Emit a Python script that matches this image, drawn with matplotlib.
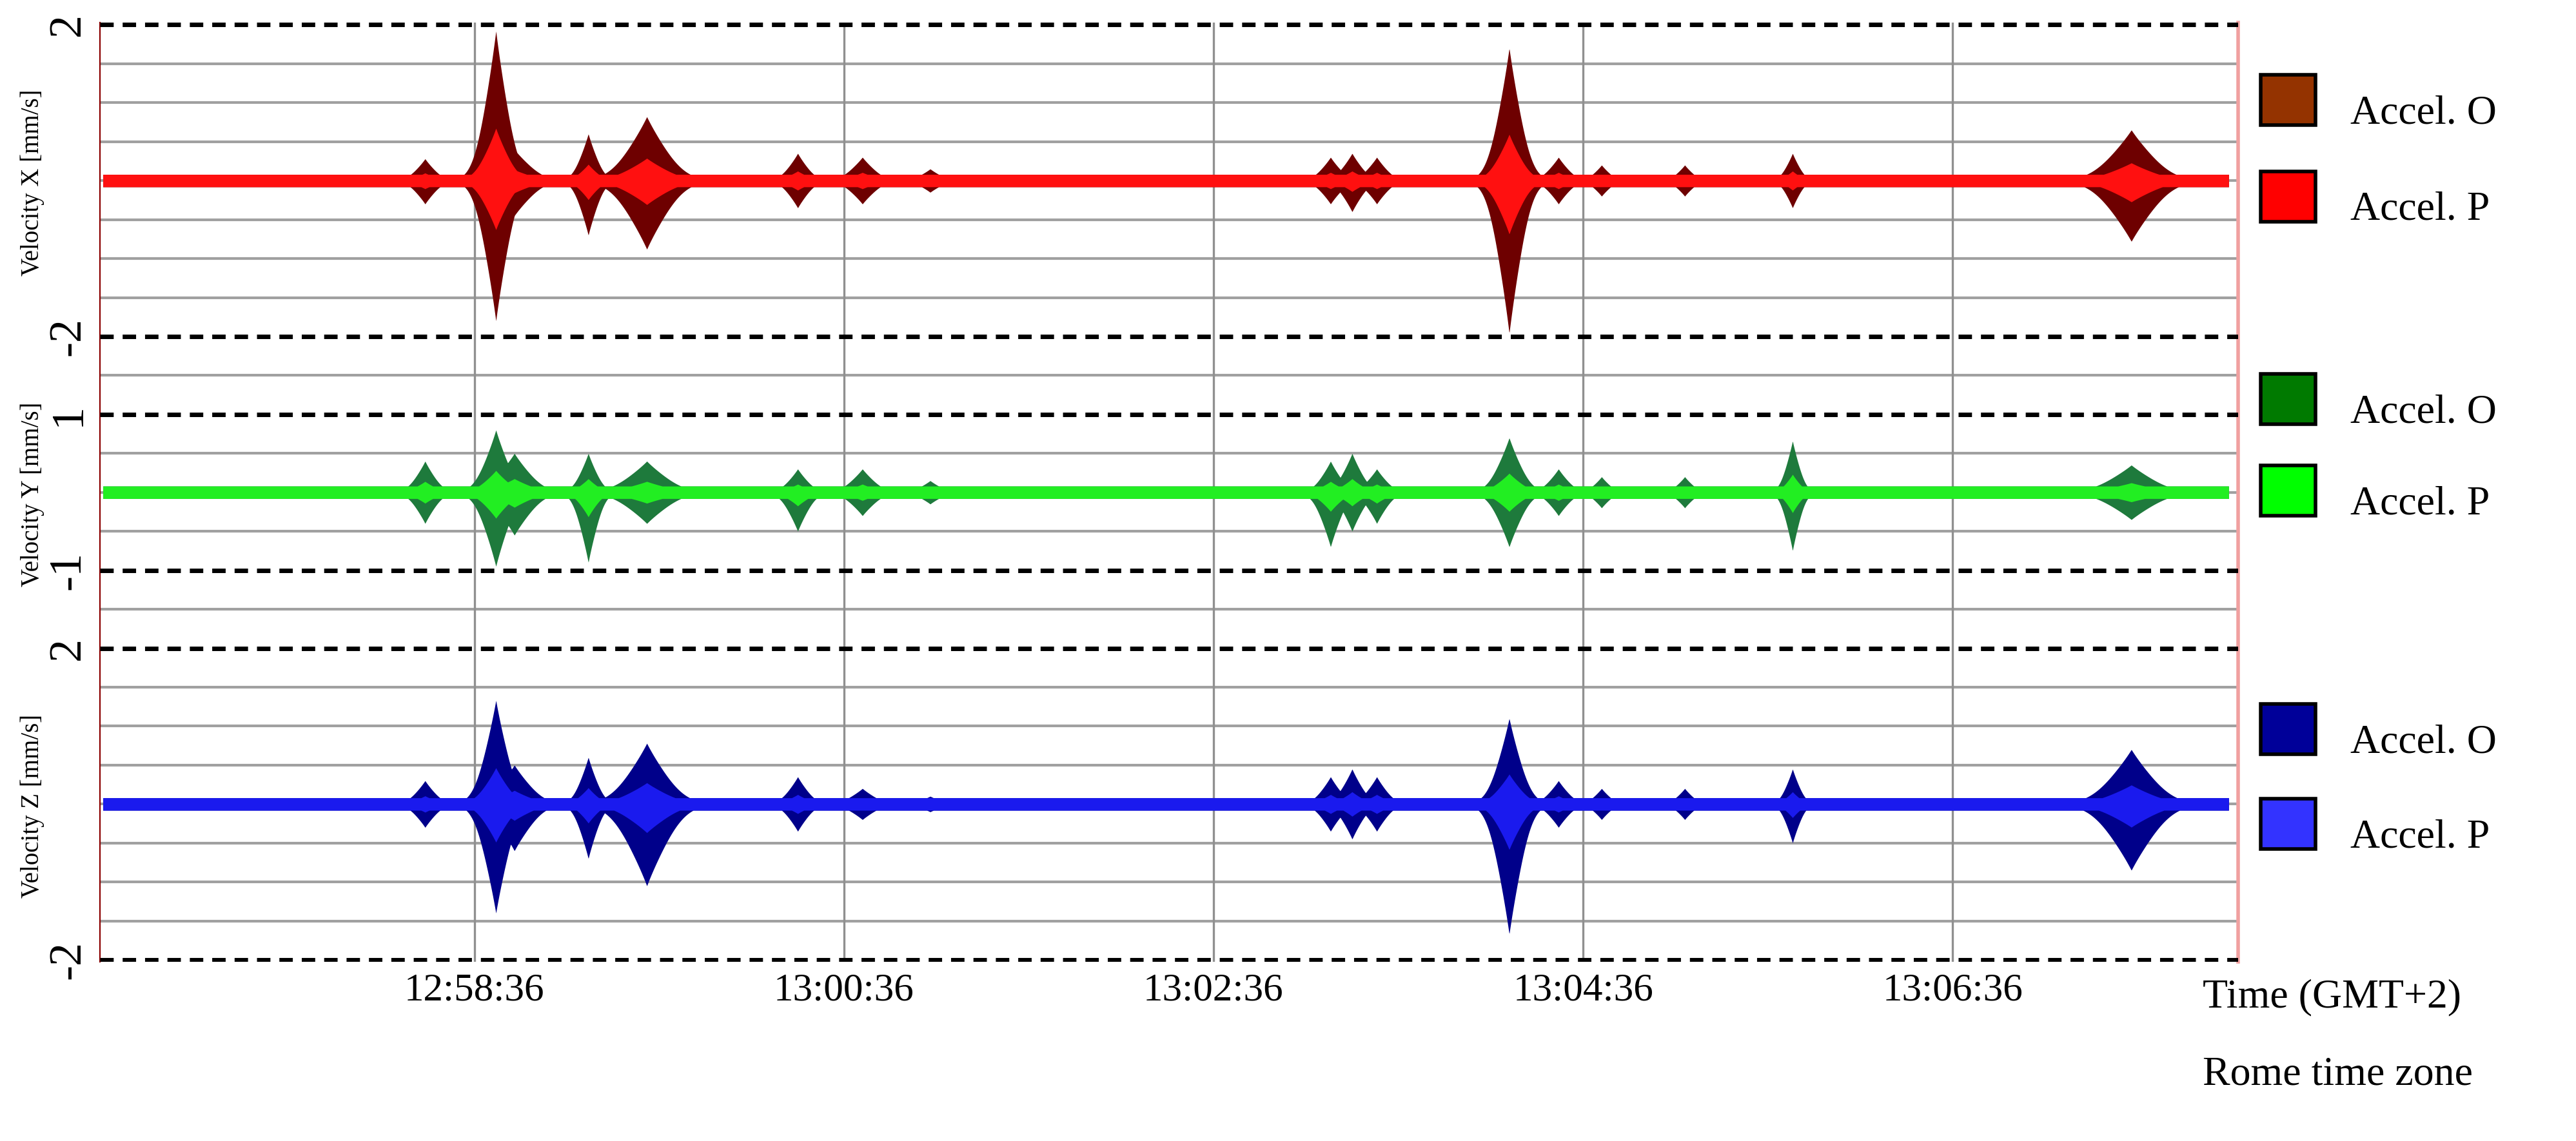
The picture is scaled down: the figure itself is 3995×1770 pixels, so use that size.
import numpy as np
import matplotlib
matplotlib.use('Agg')
import matplotlib.pyplot as plt
from matplotlib.patches import Rectangle

# event times in seconds relative to 12:58:36, with widths (s)
event_t = [-16, 7, 13, 37, 56, 105, 126, 148, 278, 285, 293, 336, 352, 366, 393, 428, 538]
event_w = [2.5, 3.0, 4.0, 2.2, 5.0, 2.5, 3.0, 2.5, 2.5, 2.5, 2.5, 3.0, 2.5, 2.0, 2.0, 1.8, 5.5]
# peak amplitudes (mm/s) of Accel. O, upper / lower
x_up = [0.28, 1.92, 0.40, 0.60, 0.82, 0.35, 0.30, 0.15, 0.30, 0.35, 0.30, 1.70, 0.30, 0.20, 0.20, 0.35, 0.65]
x_dn = [0.30, 1.80, 0.45, 0.70, 0.88, 0.35, 0.30, 0.15, 0.30, 0.40, 0.30, 1.96, 0.30, 0.20, 0.20, 0.35, 0.78]
y_up = [0.40, 0.80, 0.50, 0.50, 0.40, 0.30, 0.30, 0.15, 0.40, 0.50, 0.30, 0.70, 0.30, 0.20, 0.20, 0.66, 0.35]
y_dn = [0.40, 0.95, 0.55, 0.90, 0.40, 0.50, 0.30, 0.15, 0.70, 0.50, 0.40, 0.70, 0.30, 0.20, 0.20, 0.75, 0.35]
z_up = [0.30, 1.33, 0.50, 0.60, 0.78, 0.35, 0.20, 0.10, 0.35, 0.45, 0.35, 1.10, 0.30, 0.20, 0.20, 0.45, 0.70]
z_dn = [0.30, 1.40, 0.60, 0.70, 1.05, 0.35, 0.20, 0.10, 0.35, 0.45, 0.35, 1.67, 0.30, 0.20, 0.20, 0.50, 0.85]
baseline = 0.08
core_ratio = 0.35

tick_secs = [0, 120, 240, 360, 480]
tick_labels = ['12:58:36', '13:00:36', '13:02:36', '13:04:36', '13:06:36']
t_start, t_end = -121.6, 572.6

panels = [
    # center (grid units), units per mm/s, up, down, dark, light, label
    (20, 2, x_up, x_dn, '#6e0000', '#ff1010', 'Velocity X [mm/s]'),
    (12, 2, y_up, y_dn, '#1e7a3c', '#22ee22', 'Velocity Y [mm/s]'),
    (4, 2, z_up, z_dn, '#00008a', '#1a1aee', 'Velocity Z [mm/s]'),
]

fig = plt.figure(figsize=(19.975, 8.85), dpi=200)
ax = fig.add_axes([0.03875, 0.157, 0.830, 0.823])
t = np.linspace(t_start + 1, t_end - 3, 6000)

for center, scale, up, dn, dark, light, label in panels:
    env_up = np.full_like(t, baseline)
    env_dn = np.full_like(t, baseline)
    for t0, w, a, b in zip(event_t, event_w, up, dn):
        d = np.abs(t - t0) / w
        shape = 0.5 * np.exp(-d) + 0.5 * np.exp(-d ** 2 / 4)
        env_up = np.maximum(env_up, a * shape)
        env_dn = np.maximum(env_dn, b * shape)
    ax.fill_between(t, center + scale * env_up, center - scale * env_dn, color=dark, lw=0, zorder=3)
    core_up = np.maximum(baseline, core_ratio * env_up)
    core_dn = np.maximum(baseline, core_ratio * env_dn)
    ax.fill_between(t, center + scale * core_up, center - scale * core_dn, color=light, lw=0, zorder=4)
    yf = 0.157 + 0.823 * center / 24.1
    fig.text(0.0125, yf, label, rotation=90, ha='center', va='center',
             fontsize=14, family='Liberation Serif')

for y in range(0, 25):
    if y in (0, 8, 10, 14, 16, 24):
        ax.axhline(y, color='black', lw=2.5, ls=(0, (3, 2)), zorder=5)
    else:
        ax.axhline(y, color='#a0a0a0', lw=1.5, zorder=1)
for s in tick_secs:
    ax.axvline(s, color='#909090', lw=1.2, zorder=1)

ax.set_xlim(t_start, t_end)
ax.set_ylim(-0.05, 24.05)
ax.set_xticks(tick_secs)
ax.set_xticklabels(tick_labels, family='Liberation Serif', fontsize=22)
ax.set_yticks([0, 8, 10, 14, 16, 24])
ax.set_yticklabels(['-2', '2', '-1', '1', '-2', '2'], rotation=90, va='center',
                   family='Liberation Serif', fontsize=26)
ax.tick_params(length=0, pad=6)
for side in ('top', 'bottom'):
    ax.spines[side].set_visible(False)
ax.spines['left'].set_color('#8b0000')
ax.spines['right'].set_color('#f0a0a0')
ax.spines['right'].set_linewidth(2)

legend_items = [
    (62, '#943300', 'Accel. O'), (122, '#ff0000', 'Accel. P'),
    (248, '#007a00', 'Accel. O'), (305, '#00ff00', 'Accel. P'),
    (453, '#000099', 'Accel. O'), (512, '#3333ff', 'Accel. P'),
]
for ypix, color, text in legend_items:
    yf = 1 - ypix / 709
    fig.patches.append(Rectangle((1404 / 1600, yf - 0.022), 34 / 1600, 0.044,
                                 transform=fig.transFigure, facecolor=color,
                                 edgecolor='black', lw=2))
    fig.text(1460 / 1600, yf - 0.012, text,
             ha='left', va='center', fontsize=23, family='Liberation Serif')

fig.text(1368 / 1600, 1 - 620 / 709, 'Time (GMT+2)', ha='left', va='center',
         fontsize=23, family='Liberation Serif')
fig.text(1368 / 1600, 1 - 668 / 709, 'Rome time zone', ha='left', va='center',
         fontsize=23, family='Liberation Serif')

fig.savefig('out.png', dpi=200)
